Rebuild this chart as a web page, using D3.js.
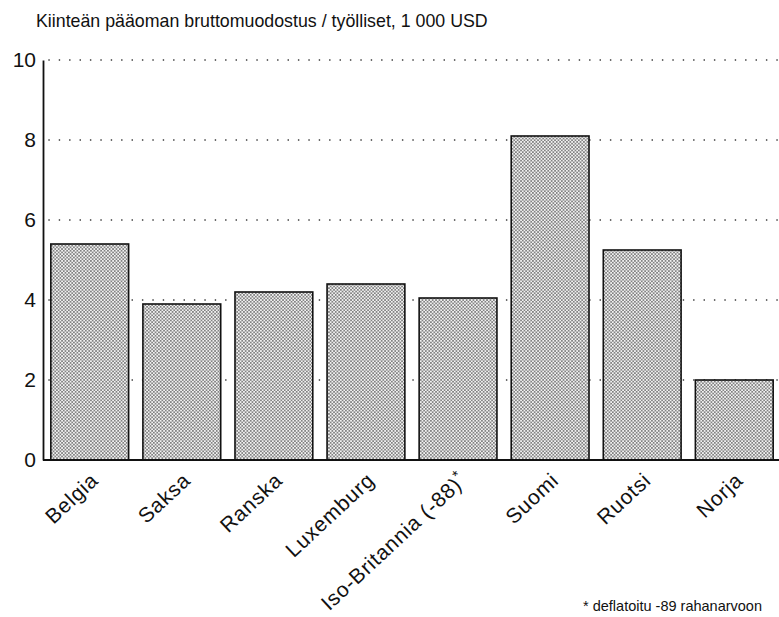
<!DOCTYPE html>
<html>
<head>
<meta charset="utf-8">
<script src="https://cdn.jsdelivr.net/npm/d3@7"></script>
<style>
body { margin: 0; background: #fff; }
text { font-family: "Liberation Sans", Arial, sans-serif; fill: #111; }
</style>
</head>
<body>
<script>
// maat ja arvot luettu kuvasta
var maat = ["Belgia", "Saksa", "Ranska", "Luxemburg", "Iso-Britannia (-88)*", "Suomi", "Ruotsi", "Norja"];
var arvot = [5.4, 3.9, 4.2, 4.4, 4.05, 8.1, 5.25, 2.0];
var yTicks = [0, 2, 4, 6, 8, 10];
var otsikko = "Kiinteän pääoman bruttomuodostus / työlliset, 1 000 USD";
var alaviite = "* deflatoitu -89 rahanarvoon";

var width = 779, height = 617;
var mLeft = 43, mRight = 781, mTop = 60, mBottom = 460;

var svg = d3.select("body").append("svg")
    .attr("width", width)
    .attr("height", height);

// rasterikuvio pylväisiin
var pat = svg.append("defs").append("pattern")
    .attr("id", "raster")
    .attr("patternUnits", "userSpaceOnUse")
    .attr("width", 3.4).attr("height", 3.4);
pat.append("rect").attr("width", 3.4).attr("height", 3.4).attr("fill", "#f2f2f2");
pat.append("circle").attr("cx", 0.85).attr("cy", 0.85).attr("r", 0.75).attr("fill", "#4a4a4a");
pat.append("circle").attr("cx", 2.55).attr("cy", 2.55).attr("r", 0.75).attr("fill", "#4a4a4a");

var x = d3.scaleBand().domain(maat).range([mLeft, mRight])
    .paddingInner(0.155).paddingOuter(0.085);
var y = d3.scaleLinear().domain([0, 10]).range([mBottom, mTop]);

// katkoviivat
svg.append("g").selectAll("line").data(yTicks.filter(function (d) { return d > 0; })).enter()
    .append("line")
    .attr("x1", mLeft + 6).attr("x2", width)
    .attr("y1", function (d) { return y(d); })
    .attr("y2", function (d) { return y(d); })
    .style("stroke", "#222")
    .style("stroke-width", 1.6)
    .style("stroke-linecap", "round")
    .style("stroke-dasharray", "0.1 10.3");

// pylväät
svg.append("g").selectAll("rect").data(arvot).enter()
    .append("rect")
    .attr("x", function (d, i) { return x(maat[i]); })
    .attr("y", function (d) { return y(d); })
    .attr("width", x.bandwidth())
    .attr("height", function (d) { return y(0) - y(d); })
    .style("fill", "url(#raster)")
    .style("stroke", "#111")
    .style("stroke-width", 1.6);

// y-akseli
var yAxis = d3.axisLeft(y).tickValues(yTicks).tickSize(0).tickPadding(7);
var gy = svg.append("g").attr("transform", "translate(" + mLeft + ",0)").call(yAxis);
gy.select(".domain").style("stroke", "#111").style("stroke-width", 1.8);
gy.selectAll("text").style("font-size", "21px").style("font-family", "'Liberation Sans', Arial, sans-serif")
    .style("fill", "#111");

// x-akseli
var xAxis = d3.axisBottom(x).tickSize(0).tickSizeOuter(0);
var gx = svg.append("g").attr("transform", "translate(0," + mBottom + ")").call(xAxis);
gx.select(".domain").attr("d", "M" + mLeft + ",0H" + width).style("stroke", "#111").style("stroke-width", 2);
gx.selectAll("text")
    .style("font-size", "21px")
    .style("letter-spacing", "0.8px")
    .style("font-family", "'Liberation Sans', Arial, sans-serif")
    .style("fill", "#111")
    .attr("text-anchor", "end")
    .attr("dy", null)
    .attr("y", 0)
    .attr("transform", "translate(10,22) rotate(-43)");

// tähti yläindeksiksi
gx.selectAll("text").filter(function (d) { return d.slice(-1) == "*"; })
    .each(function (d) {
        var t = d3.select(this);
        t.text(d.slice(0, -1));
        t.append("tspan").attr("dy", "-0.5em").style("font-size", "15px").text("*");
    });

svg.append("text")
    .attr("x", 36).attr("y", 27)
    .style("font-size", "17.8px")
    .text(otsikko);

svg.append("text")
    .attr("x", 762).attr("y", 611)
    .attr("text-anchor", "end")
    .style("font-size", "14.5px")
    .text(alaviite);
</script>
</body>
</html>
